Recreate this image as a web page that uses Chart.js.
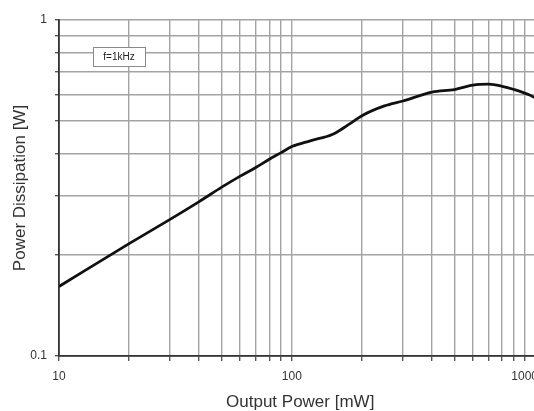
<!DOCTYPE html>
<html>
<head>
<meta charset="utf-8">
<script src="https://cdn.jsdelivr.net/npm/chart.js@4/dist/chart.umd.min.js"></script>
<style>
  html, body { margin: 0; padding: 0; background: #fff; overflow: hidden; }
  #wrap { width: 534px; height: 411px; overflow: hidden; }
</style>
</head>
<body>
<div id="wrap"><canvas id="chart" width="546" height="411"></canvas></div>
<script>
// Output power [mW] vs power dissipation [W]
const outputPower = [10, 20, 30, 40, 50, 60, 70, 80, 90, 100, 120, 150, 175, 200, 250, 300, 400, 500, 600, 700, 800, 900, 1050, 1100];
const dissipation = [0.161, 0.216, 0.255, 0.288, 0.318, 0.343, 0.364, 0.385, 0.403, 0.42, 0.437, 0.457, 0.488, 0.519, 0.555, 0.574, 0.61, 0.621, 0.64, 0.644, 0.635, 0.621, 0.598, 0.588];

// grid positions and the ones that get a label
const xTicks = [10, 20, 30, 40, 50, 60, 70, 80, 90, 100, 200, 300, 400, 500, 600, 700, 800, 900, 1000];
const yTicks = [0.1, 0.2, 0.3, 0.4, 0.5, 0.6, 0.7, 0.8, 0.9, 1];
const xLabels = [10, 100, 1000];
const yLabels = [0.1, 1];

const noteText = 'f=1kHz';

const FONT = "'Liberation Sans', Arial, sans-serif";
const GRID = '#a3a3a3';

// small boxed note in the upper left of the plot
const notePlugin = {
  id: 'note',
  afterDatasetsDraw(chart) {
    const { ctx, chartArea } = chart;
    const x = chartArea.left + 34, y = chartArea.top + 27;
    ctx.save();
    ctx.fillStyle = '#fff';
    ctx.fillRect(x, y, 52, 19);
    ctx.strokeStyle = '#8a8a8a';
    ctx.lineWidth = 1;
    ctx.strokeRect(x + 0.5, y + 0.5, 52, 19);
    ctx.fillStyle = '#222';
    ctx.font = '10px ' + FONT;
    ctx.textAlign = 'center';
    ctx.textBaseline = 'middle';
    ctx.fillText(noteText, x + 26, y + 10);
    ctx.restore();
  }
};

new Chart(document.getElementById('chart'), {
  type: 'line',
  data: {
    datasets: [{
      data: outputPower.map((p, i) => ({ x: p, y: dissipation[i] })),
      borderColor: '#111',
      borderWidth: 2.8,
      pointRadius: 0,
      cubicInterpolationMode: 'monotone',
      fill: false,
    }],
  },
  options: {
    responsive: false,
    animation: false,
    layout: { padding: { top: 20, left: 0, right: 0, bottom: 0 } },
    plugins: { legend: { display: false }, tooltip: { enabled: false } },
    scales: {
      x: {
        type: 'logarithmic',
        min: 10, max: 1180,
        afterBuildTicks: s => { s.ticks = xTicks.map(v => ({ value: v })); },
        afterFit: s => { s.height = 55; },
        grid: { color: GRID, lineWidth: 1.4, tickLength: 5, tickColor: '#555' },
        border: { color: '#333', width: 1.8 },
        ticks: {
          autoSkip: false, maxRotation: 0, padding: 8,
          color: '#333', font: { family: FONT, size: 12 },
          callback: v => xLabels.includes(v) ? String(v) : '',
        },
        title: {
          display: true, text: 'Output Power [mW]', color: '#333',
          font: { family: FONT, size: 17, lineHeight: 1 },
          padding: { top: 0, bottom: 0 },
        },
      },
      y: {
        type: 'logarithmic',
        min: 0.1, max: 1,
        afterBuildTicks: s => { s.ticks = yTicks.map(v => ({ value: v })); },
        afterFit: s => { s.width = 59; },
        grid: { color: GRID, lineWidth: 1.4, tickLength: 4, tickColor: '#555' },
        border: { color: '#333', width: 1.8 },
        ticks: {
          autoSkip: false, padding: 8,
          color: '#333', font: { family: FONT, size: 12 },
          callback: v => yLabels.includes(v) ? String(v) : '',
        },
        title: {
          display: true, text: 'Power Dissipation [W]', color: '#333',
          font: { family: FONT, size: 17, lineHeight: 1 },
          padding: { top: 12, bottom: 0 },
        },
      },
    },
  },
  plugins: [notePlugin],
});
</script>
</body>
</html>
